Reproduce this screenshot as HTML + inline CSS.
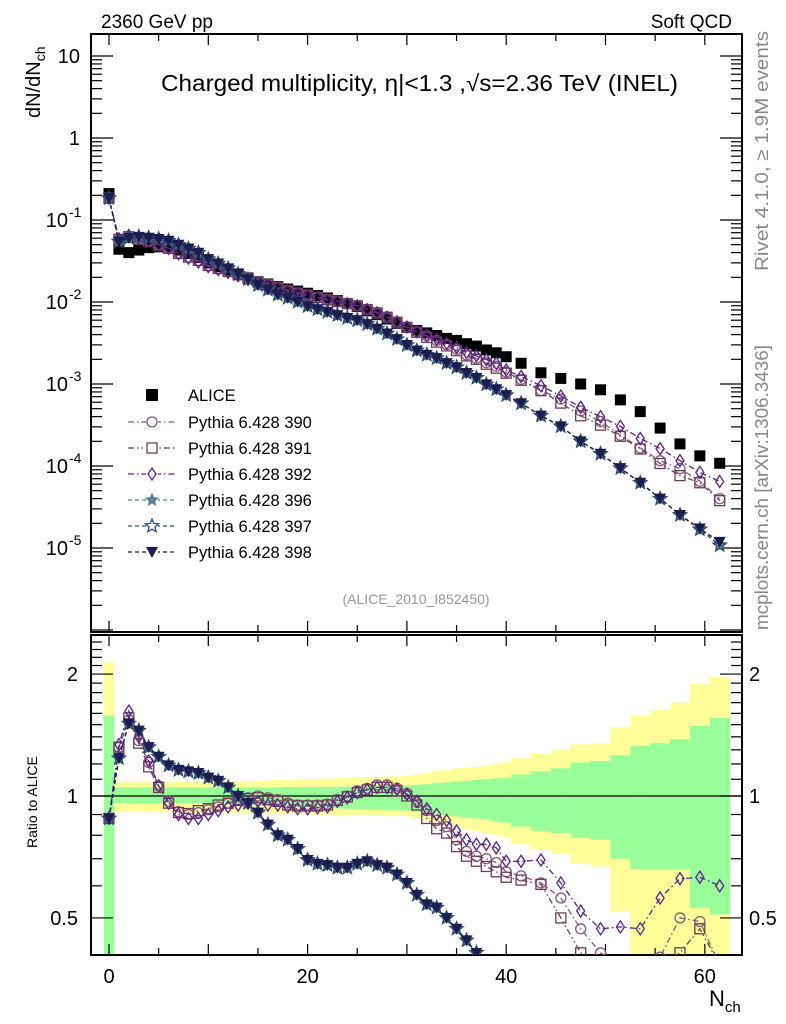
<!DOCTYPE html>
<html><head><meta charset="utf-8"><style>
html,body{margin:0;padding:0;background:#fff;width:786px;height:1024px;overflow:hidden;}
svg{display:block;font-family:"Liberation Sans",sans-serif;}
</style></head><body>
<svg id="chart" width="786" height="1024" viewBox="0 0 786 1024" xmlns="http://www.w3.org/2000/svg">
<defs>
<clipPath id="clipMain"><rect x="91" y="34" width="651" height="598"/></clipPath>
<clipPath id="clipRatio"><rect x="91" y="635" width="651" height="320"/></clipPath>
</defs>
<g id="bands" clip-path="url(#clipRatio)"></g>
<g id="axes"></g>
<g id="mainMarks" clip-path="url(#clipMain)"></g>
<g id="ratioMarks" clip-path="url(#clipRatio)"></g>
<text x="101" y="28" font-size="19">2360 GeV pp</text>
<text x="732" y="28" font-size="19" text-anchor="end">Soft QCD</text>
<text x="161" y="91" font-size="23" textLength="517" lengthAdjust="spacingAndGlyphs">Charged multiplicity, η|&lt;1.3 ,√s=2.36 TeV (INEL)</text>
<text transform="translate(40,118) rotate(-90)" font-size="20">dN/dN<tspan font-size="14" dy="5">ch</tspan></text>
<text transform="translate(37,848) rotate(-90)" font-size="14">Ratio to ALICE</text>
<text x="709" y="1006" font-size="22">N<tspan font-size="15" dy="6">ch</tspan></text>
<text transform="translate(768,271) rotate(-90)" font-size="18" fill="#888" textLength="240" lengthAdjust="spacingAndGlyphs">Rivet 4.1.0, ≥ 1.9M events</text>
<text transform="translate(768,630) rotate(-90)" font-size="18" fill="#888" textLength="285" lengthAdjust="spacingAndGlyphs">mcplots.cern.ch [arXiv:1306.3436]</text>
<text x="416" y="604" font-size="14" fill="#999" text-anchor="middle">(ALICE_2010_I852450)</text>
<g id="legend"></g>
</svg>
<script>
const nch = [0,1,2,3,4,5,6,7,8,9,10,11,12,13,14,15,16,17,18,19,20,21,22,23,24,25,26,27,28,29,30,31,32,33,34,35,36,37,38,39,40,41.5,43.5,45.5,47.5,49.5,51.5,53.5,55.5,57.5,59.5,61.5];
const alice = [0.21,0.044,0.040,0.043,0.046,0.047,0.047,0.043,0.039,0.035,0.030,0.027,0.0245,0.022,0.0197,0.0177,0.0166,0.0154,0.0144,0.0136,0.0128,0.012,0.0112,0.0104,0.0096,0.0088,0.0078,0.0070,0.0062,0.0055,0.0049,0.0045,0.0042,0.0039,0.0036,0.0034,0.0031,0.0029,0.0026,0.0024,0.00215,0.00179,0.00137,0.00117,0.0010,0.00085,0.00064,0.00046,0.00029,0.000186,0.000133,0.000108];
const r390 = [.88,1.32,1.54,1.37,1.21,1.06,.97,.915,.90,.91,.925,.94,.96,.98,.99,1.0,.99,.98,.96,.95,.95,.95,.955,.98,1.0,1.03,1.045,1.065,1.065,1.045,1.015,.965,.92,.87,.84,.78,.73,.71,.70,.685,.65,.635,.61,.56,.47,.41,.37,.36,.40,.50,.49,.37];
const r391 = [.88,1.32,1.56,1.35,1.18,1.05,.96,.91,.905,.92,.93,.95,.96,.975,.985,.99,.98,.97,.95,.945,.945,.945,.95,.975,.995,1.02,1.035,1.05,1.05,1.03,1.0,.95,.88,.83,.81,.75,.71,.69,.67,.65,.63,.62,.605,.50,.41,.37,.36,.35,.37,.41,.47,.35];
const r392 = [.88,1.34,1.62,1.40,1.22,1.06,.96,.90,.88,.88,.90,.92,.94,.95,.96,.97,.95,.95,.94,.93,.93,.935,.94,.97,.99,1.02,1.035,1.05,1.05,1.04,1.01,.97,.93,.90,.87,.82,.78,.76,.76,.745,.69,.69,.695,.61,.52,.47,.475,.47,.56,.625,.63,.60];
const r396 = [.88,1.24,1.51,1.45,1.32,1.25,1.19,1.16,1.15,1.14,1.11,1.09,1.05,1.0,.96,.91,.85,.80,.78,.74,.695,.68,.675,.665,.665,.68,.69,.675,.665,.64,.61,.57,.54,.53,.50,.47,.44,.41,.38,.36,.34,.325,.30,.26,.20,.166,.147,.136,.138,.136,.127,.10];
const r397 = [.88,1.24,1.51,1.45,1.32,1.25,1.19,1.16,1.15,1.14,1.11,1.09,1.05,1.0,.96,.91,.85,.80,.78,.74,.695,.68,.675,.665,.665,.68,.69,.675,.665,.64,.61,.57,.54,.53,.50,.47,.44,.41,.38,.36,.34,.325,.30,.26,.20,.166,.147,.136,.138,.136,.127,.10];
const r398 = [.88,1.24,1.51,1.45,1.32,1.25,1.19,1.16,1.15,1.14,1.11,1.09,1.05,1.0,.96,.91,.85,.80,.78,.74,.695,.68,.675,.665,.665,.68,.69,.675,.665,.64,.61,.57,.54,.53,.50,.47,.44,.41,.38,.36,.34,.325,.30,.26,.20,.166,.147,.136,.138,.136,.130,.11];
const binLo = [-0.5,0.5,1.5,2.5,3.5,4.5,5.5,6.5,7.5,8.5,9.5,10.5,11.5,12.5,13.5,14.5,15.5,16.5,17.5,18.5,19.5,20.5,21.5,22.5,23.5,24.5,25.5,26.5,27.5,28.5,29.5,30.5,31.5,32.5,33.5,34.5,35.5,36.5,37.5,38.5,39.5,40.5,42.5,44.5,46.5,48.5,50.5,52.5,54.5,56.5,58.5,60.5];
const binHi = [0.5,1.5,2.5,3.5,4.5,5.5,6.5,7.5,8.5,9.5,10.5,11.5,12.5,13.5,14.5,15.5,16.5,17.5,18.5,19.5,20.5,21.5,22.5,23.5,24.5,25.5,26.5,27.5,28.5,29.5,30.5,31.5,32.5,33.5,34.5,35.5,36.5,37.5,38.5,39.5,40.5,42.5,44.5,46.5,48.5,50.5,52.5,54.5,56.5,58.5,60.5,62.5];
const yelUp = [2.14,1.085,1.085,1.085,1.085,1.085,1.085,1.085,1.085,1.085,1.086,1.087,1.088,1.089,1.09,1.09,1.092,1.094,1.096,1.098,1.10,1.102,1.104,1.106,1.108,1.11,1.112,1.114,1.116,1.118,1.12,1.13,1.14,1.15,1.16,1.17,1.175,1.18,1.19,1.20,1.21,1.24,1.27,1.30,1.34,1.35,1.48,1.58,1.63,1.70,1.89,1.97];
const yelDn = [0.43,.915,.915,.915,.915,.915,.915,.915,.914,.913,.912,.911,.91,.909,.908,.907,.906,.905,.904,.903,.902,.90,.899,.898,.897,.896,.895,.894,.893,.892,.89,.88,.87,.86,.85,.84,.83,.82,.81,.80,.79,.76,.74,.72,.68,.67,.52,.40,.40,.40,.40,.40];
const grnUp = [1.58,1.05,1.05,1.05,1.05,1.05,1.05,1.05,1.05,1.05,1.05,1.05,1.05,1.05,1.05,1.05,1.05,1.05,1.052,1.052,1.053,1.053,1.054,1.054,1.055,1.055,1.056,1.057,1.058,1.059,1.06,1.065,1.07,1.075,1.08,1.085,1.09,1.095,1.10,1.105,1.11,1.13,1.15,1.17,1.21,1.22,1.26,1.33,1.35,1.38,1.49,1.56];
const grnDn = [0.40,.96,.96,.96,.96,.96,.96,.96,.96,.96,.958,.956,.954,.952,.95,.948,.946,.944,.942,.94,.938,.936,.934,.932,.93,.928,.926,.924,.922,.921,.92,.915,.91,.90,.895,.89,.885,.88,.875,.865,.86,.84,.82,.81,.79,.78,.70,.66,.66,.66,.53,.51];
const mainTicks = ["10","1","10","10","10","10","10"];
const mainTickExp = [null,null,"-1","-2","-3","-4","-5"];
const mainTickVals = [10,1,0.1,0.01,0.001,1e-4,1e-5];
const xTickVals = [0,20,40,60];
const ratioTickVals = [2,1,0.5];
const ratioTickLabels = ["2","1","0.5"];

const NS="http://www.w3.org/2000/svg";
const X = n => 109 + n*9.93;
const YM = v => 220 - 82*Math.log10(v/0.1);
const YR = r => 796 - 405*Math.log10(r);
const YRc = r => Math.min(965, Math.max(625, YR(r)));
function mk(tag, attrs, parent){const e=document.createElementNS(NS,tag);for(const k in attrs)e.setAttribute(k,attrs[k]);parent.appendChild(e);return e;}

const bands=document.getElementById('bands');
for(let i=0;i<nch.length;i++){
  const x0=X(binLo[i]),x1=X(binHi[i]);
  const y1=mk('rect',{x:x0,y:YRc(yelUp[i]),width:x1-x0+0.5,height:YRc(yelDn[i])-YRc(yelUp[i]),fill:'#ffff99'},bands);
  
  
  const g1=mk('rect',{x:x0,y:YRc(grnUp[i]),width:x1-x0+0.5,height:YRc(grnDn[i])-YRc(grnUp[i]),fill:'#99ff99'},bands);
  
  
}

const axes=document.getElementById('axes');
const f1=mk('rect',{x:91,y:34,width:651,height:598,fill:'none',stroke:'#000','stroke-width':2},axes);


const f2=mk('rect',{x:91,y:635,width:651,height:320,fill:'none',stroke:'#000','stroke-width':2},axes);


const one=mk('line',{x1:91,x2:742,y1:YR(1),y2:YR(1),stroke:'#000','stroke-width':1.2},axes);


for(let n=0;n<=60;n+=5){
  const L = n%10===0?11:7;
  for(const [yt,dir] of [[34,1],[632,-1],[635,1],[955,-1]]){
    mk('line',{x1:X(n),x2:X(n),y1:yt,y2:yt+dir*L,stroke:'#000','stroke-width':1.2},axes);
  }
}
xTickVals.forEach(v=>{
  const t=mk('text',{x:X(v),y:983,'font-size':20,'text-anchor':'middle'},axes);
  t.textContent=String(v);
  
  
});
for(let e=-6;e<=1;e++){
  for(let m=1;m<=9;m++){
    const v=m*Math.pow(10,e);const y=YM(v);
    if(y<34||y>632)continue;
    const L=m===1?22:11;
    mk('line',{x1:91,x2:91+L,y1:y,y2:y,stroke:'#000','stroke-width':1.2},axes);
    mk('line',{x1:742,x2:742-L,y1:y,y2:y,stroke:'#000','stroke-width':1.2},axes);
  }
}
mainTickVals.forEach((v,i)=>{
  const t=mk('text',{x:mainTickExp[i]?68:80,y:YM(v)+7,'font-size':20,'text-anchor':'end'},axes);
  t.textContent=mainTicks[i];
  
  
  if(mainTickExp[i]){
    const s=mk('text',{x:69,y:YM(v)-3,'font-size':14},axes);
    s.textContent=mainTickExp[i];
  }
});
for(let r=0.4;r<=2.5001;r+=0.1){
  const y=YR(r);if(y<635||y>955)continue;
  const major=Math.abs(r-0.5)<1e-6||Math.abs(r-1)<1e-6||Math.abs(r-2)<1e-6;
  const L=major?22:11;
  mk('line',{x1:91,x2:91+L,y1:y,y2:y,stroke:'#000','stroke-width':1.2},axes);
  mk('line',{x1:742,x2:742-L,y1:y,y2:y,stroke:'#000','stroke-width':1.2},axes);
}
ratioTickVals.forEach((v,i)=>{
  const t=mk('text',{x:78,y:YR(v)+7,'font-size':20,'text-anchor':'end'},axes);
  t.textContent=ratioTickLabels[i];
  
  
  const t2=mk('text',{x:749,y:YR(v)+7,'font-size':20},axes);
  t2.textContent=ratioTickLabels[i];
  
  
});

function starPts(cx,cy,R){const r=R*0.45;let p=[];for(let k=0;k<10;k++){const a=-Math.PI/2+k*Math.PI/5;const rr=k%2?r:R;p.push((cx+rr*Math.cos(a)).toFixed(1)+','+(cy+rr*Math.sin(a)).toFixed(1));}return p.join(' ');}
function marker(type,cx,cy,col,parent){
  let e;
  if(type==='square') e=mk('rect',{x:cx-5.5,y:cy-5.5,width:11,height:11,fill:'#000'},parent);
  else if(type==='circle') e=mk('circle',{cx,cy,r:5,fill:'none',stroke:col,'stroke-width':1.3},parent);
  else if(type==='osquare') e=mk('rect',{x:cx-5,y:cy-5,width:10,height:10,fill:'none',stroke:col,'stroke-width':1.3},parent);
  else if(type==='diamond') e=mk('polygon',{points:`${cx},${cy-6} ${cx+4},${cy} ${cx},${cy+6} ${cx-4},${cy}`,fill:'none',stroke:col,'stroke-width':1.3},parent);
  else if(type==='star') e=mk('polygon',{points:starPts(cx,cy,7),fill:col,stroke:col,'stroke-width':0.5},parent);
  else if(type==='ostar') e=mk('polygon',{points:starPts(cx,cy,7),fill:'none',stroke:col,'stroke-width':1.3},parent);
  else if(type==='tri') e=mk('polygon',{points:`${cx-6},${cy-5} ${cx+6},${cy-5} ${cx},${cy+6}`,fill:col},parent);
  return e;
}
const series=[
 {name:'390',r:r390,type:'circle',col:'#8a5a7e',dash:'6,3,1.5,3'},
 {name:'391',r:r391,type:'osquare',col:'#6e3c55',dash:'6,3,1.5,3,1.5,3'},
 {name:'392',r:r392,type:'diamond',col:'#5b2090',dash:'6,3,1.5,3'},
 {name:'396',r:r396,type:'star',col:'#5a8094',dash:'4,3'},
 {name:'397',r:r397,type:'ostar',col:'#2e4e70',dash:'4,3'},
 {name:'398',r:r398,type:'tri',col:'#1c1c50',dash:'4,3'}
];
const mainG=document.getElementById('mainMarks');
const ratG=document.getElementById('ratioMarks');
alice.forEach((v,i)=>{
  const m=marker('square',X(nch[i]),YM(v),'#000',mainG);
  
  
});
series.forEach(s=>{
  const pm=nch.map((n,i)=>X(n).toFixed(1)+','+YM(alice[i]*s.r[i]).toFixed(1)).join(' ');
  const l1=mk('polyline',{points:pm,fill:'none',stroke:s.col,'stroke-width':1.3,'stroke-dasharray':s.dash},mainG);
  
  
  const pr=nch.map((n,i)=>X(n).toFixed(1)+','+YRc(s.r[i]).toFixed(1)).join(' ');
  const l2=mk('polyline',{points:pr,fill:'none',stroke:s.col,'stroke-width':1.3,'stroke-dasharray':s.dash},ratG);
  
  
  nch.forEach((n,i)=>{
    const m=marker(s.type,X(n),YM(alice[i]*s.r[i]),s.col,mainG);
    
    
    if(YR(s.r[i])<963){
      const m2=marker(s.type,X(n),YR(s.r[i]),s.col,ratG);
      
      
    }
  });
});
const leg=document.getElementById('legend');
const legNames=['ALICE','Pythia 6.428 390','Pythia 6.428 391','Pythia 6.428 392','Pythia 6.428 396','Pythia 6.428 397','Pythia 6.428 398'];
const legY=[395,422,448,474,500,526,552];
legNames.forEach((nm,i)=>{
  const g=mk('g',{},leg);
  
  
  if(i===0){ mk('rect',{x:146,y:legY[i]-6,width:12,height:12,fill:'#000'},g); }
  else{
    const s=series[i-1];
    mk('line',{x1:128,x2:175,y1:legY[i],y2:legY[i],stroke:s.col,'stroke-width':1.3,'stroke-dasharray':s.dash},g);
    mk('rect',{x:146,y:legY[i]-7,width:12,height:14,fill:'#fff'},g);
    marker(s.type,152,legY[i],s.col,g);
  }
  const t=mk('text',{x:188,y:legY[i]+6,'font-size':16.5},g);
  t.textContent=nm;
});
</script>
</body></html>
